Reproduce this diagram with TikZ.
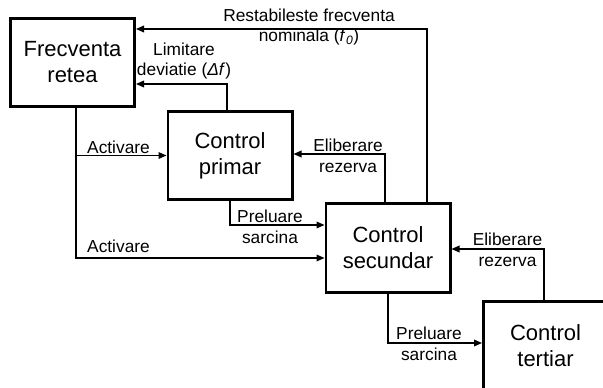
\documentclass[tikz,border=0pt]{standalone}
\usepackage{fontspec}
\setmainfont{Liberation Sans}
\usetikzlibrary{arrows.meta}
\begin{document}
\begin{tikzpicture}[x=0.75pt,y=-0.75pt,>={Triangle[length=6pt,width=5pt]},line width=0.9pt,
box/.style={draw,line width=2pt,minimum width=93.25pt,minimum height=66.25pt,align=center,
  font=\fontsize{16.5}{19.5}\selectfont},
lbl/.style={align=center,inner sep=0pt,font=\fontsize{13}{15.5}\selectfont}]
\useasboundingbox (0,0) rectangle (603,388);
\clip (0,0) rectangle (603,388);
\node[box] (retea) at (72.5,62.5) {Frecventa\\retea};
\node[box] (primar) at (230,155.5) {Control\\primar};
\node[box] (secundar) at (388,248) {Control\\secundar};
\node[box] (tertiar) at (545.5,345.5) {Control\\tertiar};
\coordinate (rs) at (427,29);
\coordinate (ld) at (227,84);
\coordinate (act) at (76,258);
\coordinate (er1) at (385,154);
\coordinate (ps1) at (230,225);
\coordinate (er2) at (544,249);
\coordinate (ps2) at (388,343);
\draw[->] (secundar.north -| rs) |- (retea.east |- rs);
\draw[->] (primar.north -| ld) |- (retea.east |- ld);
\draw[->] (retea.south -| act) |- (secundar.west |- act);
\draw[->] (act |- primar.west) -- (primar.west);
\draw[->] (secundar.north -| er1) |- (primar.east |- er1);
\draw[->] (primar.south -| ps1) |- (secundar.west |- ps1);
\draw[->] (tertiar.north -| er2) |- (secundar.east |- er2);
\draw[->] (secundar.south -| ps2) |- (tertiar.west |- ps2);
\node[lbl] (l-rs) at (309,27) {Restabileste frecventa\\nominala (\textit{f}\textsubscript{\textit{0}})};
\node[lbl] (l-ld) at (184,61) {Limitare\\deviatie (\textit{Δf})};
\node[lbl] (l-act1) at (118.5,147) {Activare};
\node[lbl] (l-act2) at (118.5,246) {Activare};
\node[lbl] (l-er1) at (348,155.5) {Eliberare\\rezerva};
\node[lbl] (l-ps1) at (270,227) {Preluare\\sarcina};
\node[lbl] (l-er2) at (507.5,249.5) {Eliberare\\rezerva};
\node[lbl] (l-ps2) at (429,344) {Preluare\\sarcina};
\end{tikzpicture}
\end{document}
